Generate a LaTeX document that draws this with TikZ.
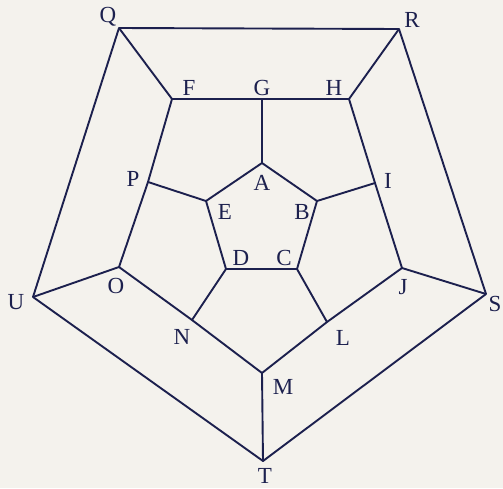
\documentclass[tikz,border=0pt]{standalone}
\usepackage{fontspec}
\setmainfont{Liberation Serif}
\definecolor{ink}{RGB}{28,32,78}
\definecolor{paper}{RGB}{244,242,237}
\begin{document}
\begin{tikzpicture}[x=1pt,y=-1pt,
  edge/.style={draw=ink,line width=1.9pt,line join=round},
  lbl/.style={text=ink,font=\fontsize{23}{24}\selectfont,inner sep=0pt}]
\fill[paper] (0,0) rectangle (503,488);
\useasboundingbox (0,0) rectangle (503,488);
% outer
\coordinate (Q) at (119,28);
\coordinate (R) at (399,29);
\coordinate (S) at (486,294);
\coordinate (T) at (263,461);
\coordinate (U) at (33,297);
% middle
\coordinate (F) at (172,99);
\coordinate (G) at (262,99);
\coordinate (H) at (349,99);
\coordinate (I) at (375,183);
\coordinate (J) at (402,268);
\coordinate (L) at (327,322);
\coordinate (M) at (262,373);
\coordinate (N) at (192,320);
\coordinate (O) at (119,267);
\coordinate (P) at (148,182);
% inner
\coordinate (A) at (262,163);
\coordinate (B) at (317,201);
\coordinate (C) at (297,269);
\coordinate (D) at (226,269);
\coordinate (E) at (206,201);
\draw[edge] (Q) -- (R) -- (S) -- (T) -- (U) -- cycle;
\draw[edge] (F) -- (G) -- (H) -- (I) -- (J) -- (L) -- (M) -- (N) -- (O) -- (P) -- cycle;
\draw[edge] (A) -- (B) -- (C) -- (D) -- (E) -- cycle;
\draw[edge] (Q) -- (F);
\draw[edge] (R) -- (H);
\draw[edge] (S) -- (J);
\draw[edge] (T) -- (M);
\draw[edge] (U) -- (O);
\draw[edge] (G) -- (A);
\draw[edge] (I) -- (B);
\draw[edge] (L) -- (C);
\draw[edge] (N) -- (D);
\draw[edge] (P) -- (E);
% labels
\node[lbl] (lQ) at (108,17) {Q};
\node[lbl] (lR) at (412,20) {R};
\node[lbl] (lS) at (495,304) {S};
\node[lbl] (lT) at (265,476) {T};
\node[lbl] (lU) at (16,302) {U};
\node[lbl] (lF) at (189,88) {F};
\node[lbl] (lG) at (262,88) {G};
\node[lbl] (lH) at (334,88) {H};
\node[lbl] (lI) at (388,181) {I};
\node[lbl] (lJ) at (403,287) {J};
\node[lbl] (lL) at (343,338) {L};
\node[lbl] (lM) at (283,387) {M};
\node[lbl] (lN) at (182,337) {N};
\node[lbl] (lO) at (116,286) {O};
\node[lbl] (lP) at (133,179) {P};
\node[lbl] (lA) at (262,183) {A};
\node[lbl] (lB) at (302,212) {B};
\node[lbl] (lC) at (284,258) {C};
\node[lbl] (lD) at (241,258) {D};
\node[lbl] (lE) at (225,212) {E};
\end{tikzpicture}
\end{document}
